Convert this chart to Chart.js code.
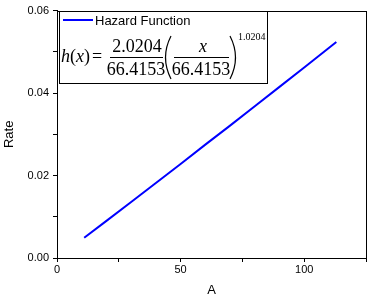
<!DOCTYPE html>
<html>
<head>
<meta charset="utf-8">
<script src="https://cdn.jsdelivr.net/npm/chart.js@4.4.1/dist/chart.umd.min.js"></script>
<style>
  html, body { margin: 0; padding: 0; background: #fff; }
  #wrap { width: 388px; height: 299px; position: relative; }
</style>
</head>
<body>
<div id="wrap"><canvas id="hazardChart" width="388" height="299"></canvas></div>
<script>
// values
const ageValues = [11, 20, 30, 40, 50, 60, 70, 80, 90, 100, 113];
const rateValues = [0.0049, 0.0090, 0.0136, 0.0182, 0.0228, 0.0275, 0.0321, 0.0368, 0.0415, 0.0462, 0.0524];
const xTickLabels = [0, 50, 100];
const yTickLabels = ['0.00', '0.02', '0.04', '0.06'];
const seriesLabel = 'Hazard Function';
const shapeParam = '2.0204';
const scaleParam = '66.4153';
const exponentParam = '1.0204';

const points = ageValues.map((a, i) => ({ x: a, y: rateValues[i] }));

// frame round the plot area (top/right lines)
const frame = {
    id: 'frame',
    afterDraw(chart) {
        const { ctx, chartArea: a } = chart;
        ctx.save();
        ctx.strokeStyle = '#000';
        ctx.lineWidth = 1;
        ctx.strokeRect(Math.round(a.left) + 0.5, Math.round(a.top) + 0.5,
            Math.round(a.right - a.left), Math.round(a.bottom - a.top));
        ctx.restore();
    }
};

// legend box with the hazard formula
const formulaLegend = {
    id: 'formulaLegend',
    afterDraw(chart) {
        const ctx = chart.ctx;
        const ds = chart.data.datasets[0];
        ctx.save();
        ctx.strokeStyle = '#000';
        ctx.lineWidth = 1;
        ctx.strokeRect(59.5, 11.5, 208, 72);

        // legend entry
        ctx.strokeStyle = ds.borderColor;
        ctx.lineWidth = 2;
        ctx.beginPath();
        ctx.moveTo(63, 20);
        ctx.lineTo(93, 20);
        ctx.stroke();
        ctx.fillStyle = '#000';
        ctx.font = '13px "Liberation Sans", Arial, sans-serif';
        ctx.textBaseline = 'alphabetic';
        ctx.textAlign = 'left';
        ctx.fillText(ds.label, 95, 25);

        // h(x) =
        const serif = '"Liberation Serif", "Times New Roman", serif';
        const base = 62;
        let x = 61;
        const part = (txt, italic) => {
            ctx.font = (italic ? 'italic ' : '') + '18px ' + serif;
            ctx.fillText(txt, x, base);
            x += ctx.measureText(txt).width;
        };
        part('h', true);
        part('(', false);
        part('x', true);
        part(')', false);
        x += 2;
        part('=', false);

        // first fraction
        ctx.textAlign = 'center';
        ctx.font = '18px ' + serif;
        ctx.fillText(shapeParam, 137, 52);
        ctx.fillText(scaleParam, 136, 75);
        ctx.lineWidth = 1;
        ctx.strokeStyle = '#000';
        ctx.beginPath();
        ctx.moveTo(110, 57.5);
        ctx.lineTo(163, 57.5);
        ctx.stroke();

        // second fraction
        ctx.font = 'italic 18px ' + serif;
        ctx.fillText('x', 203, 52);
        ctx.font = '18px ' + serif;
        ctx.fillText(scaleParam, 201, 75);
        ctx.beginPath();
        ctx.moveTo(174, 57.5);
        ctx.lineTo(229, 57.5);
        ctx.stroke();

        // tall parentheses
        ctx.lineWidth = 1.2;
        ctx.beginPath();
        ctx.moveTo(171, 36);
        ctx.quadraticCurveTo(160, 57.5, 171, 79);
        ctx.stroke();
        ctx.beginPath();
        ctx.moveTo(230, 36);
        ctx.quadraticCurveTo(241, 57.5, 230, 79);
        ctx.stroke();

        // exponent
        ctx.textAlign = 'left';
        ctx.font = '10px ' + serif;
        ctx.fillText(exponentParam, 238, 40);
        ctx.restore();
    }
};

const ctx = document.getElementById('hazardChart').getContext('2d');
const hazardChart = new Chart(ctx, {
    type: 'scatter',
    data: {
        datasets: [{
            label: seriesLabel,
            data: points,
            showLine: true,
            borderColor: '#0000ff',
            backgroundColor: '#0000ff',
            borderWidth: 2,
            pointRadius: 0,
            tension: 0
        }]
    },
    options: {
        responsive: false,
        animation: false,
        layout: { padding: { top: 9, right: 22, left: 0, bottom: 0 } },
        plugins: {
            legend: { display: false },
            tooltip: { enabled: false }
        },
        scales: {
            x: {
                type: 'linear',
                min: 0,
                max: 125,
                afterFit: s => { s.height = 41; },
                border: { display: true, color: '#000', width: 1 },
                grid: { drawOnChartArea: false, drawTicks: true, tickLength: 4, color: '#000' },
                ticks: {
                    stepSize: 25,
                    padding: 1,
                    color: '#000',
                    font: { family: '"Liberation Sans", Arial, sans-serif', size: 11 },
                    maxRotation: 0,
                    callback: v => xTickLabels.includes(v) ? String(v) : ''
                },
                title: {
                    display: true,
                    text: 'A',
                    color: '#000',
                    font: { family: '"Liberation Sans", Arial, sans-serif', size: 13 },
                    padding: { top: 0, bottom: 1 }
                }
            },
            y: {
                min: 0,
                max: 0.06,
                afterFit: s => { s.width = 57; },
                border: { display: true, color: '#000', width: 1 },
                grid: { drawOnChartArea: false, drawTicks: true, tickLength: 4, color: '#000' },
                ticks: {
                    stepSize: 0.01,
                    padding: 4,
                    color: '#000',
                    font: { family: '"Liberation Sans", Arial, sans-serif', size: 11 },
                    callback: v => {
                        const lbl = v.toFixed(2);
                        return yTickLabels.includes(lbl) ? lbl : '';
                    }
                },
                title: {
                    display: true,
                    text: 'Rate',
                    color: '#000',
                    font: { family: '"Liberation Sans", Arial, sans-serif', size: 13 },
                    padding: { top: 2, bottom: 0 }
                }
            }
        }
    },
    plugins: [frame, formulaLegend]
});
</script>
</body>
</html>
